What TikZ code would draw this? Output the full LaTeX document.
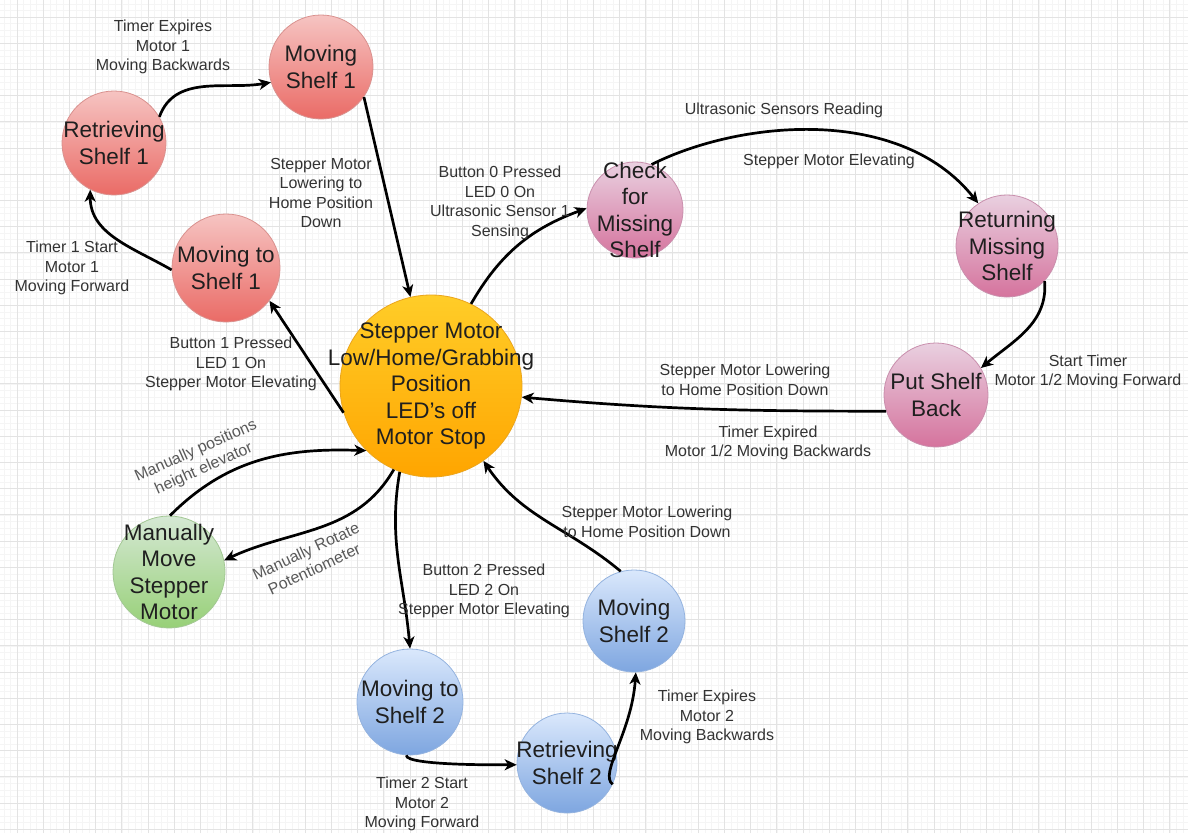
\documentclass[tikz,border=0pt]{standalone}
\usepackage{fontspec}
\setmainfont{Liberation Sans}
\usepackage{tikz}
\usetikzlibrary{arrows.meta}
\definecolor{redtop}{HTML}{F6C4C2}
\definecolor{redbot}{HTML}{EA6B66}
\definecolor{redline}{HTML}{D9918E}
\definecolor{pinktop}{HTML}{E9D0E0}
\definecolor{pinkbot}{HTML}{D5739D}
\definecolor{pinkline}{HTML}{C98FAD}
\definecolor{orangetop}{HTML}{FFCD28}
\definecolor{orangebot}{HTML}{FFA500}
\definecolor{orangeline}{HTML}{EBA51C}
\definecolor{greentop}{HTML}{D5E8D4}
\definecolor{greenbot}{HTML}{97D077}
\definecolor{greenline}{HTML}{A3C894}
\definecolor{bluetop}{HTML}{DAE8FC}
\definecolor{bluebot}{HTML}{7EA6E0}
\definecolor{blueline}{HTML}{94B3DF}

\tikzset{
  state/.style={circle, inner sep=0pt, line width=0.8pt},
  redst/.style={state, top color=redtop, bottom color=redbot, draw=redline},
  pinkst/.style={state, top color=pinktop, bottom color=pinkbot, draw=pinkline},
  orangest/.style={state, top color=orangetop, bottom color=orangebot, draw=orangeline},
  greenst/.style={state, top color=greentop, bottom color=greenbot, draw=greenline},
  bluest/.style={state, top color=bluetop, bottom color=bluebot, draw=blueline},
  statetext/.style={align=center, text=black!88, font=\fontsize{22.5}{26.5}\selectfont},
  lbl/.style={align=center, text=black!80, font=\fontsize{16}{19.5}\selectfont},
  trans/.style={line width=2.7pt, -{Stealth[length=12pt, width=11pt, inset=3.5pt]}}
}

\begin{document}
\begin{tikzpicture}[x=1pt, y=1pt]
\useasboundingbox (0,0) rectangle (1188,-833);

% grid paper
\fill[white] (0,0) rectangle (1188,-833);
\begin{scope}[shift={(17,-17)}]
  \draw[black!4, line width=0.5pt, step=6.55] (-17,17) grid (1171,-816);
  \draw[black!11, line width=0.7pt, step=26.2] (-17,17) grid (1171,-816);
\end{scope}

% home state
\node[orangest, minimum size=182pt, label={[statetext]center:{Stepper Motor\\Low/Home/Grabbing\\Position\\LED's off\\Motor Stop}}] (home) at (431,-386) {};

% shelf 1
\node[redst, minimum size=104pt, label={[statetext]center:{Moving\\Shelf 1}}] (msA) at (321,-67) {};
\node[redst, minimum size=104pt, label={[statetext]center:{Retrieving\\Shelf 1}}] (retA) at (114,-143) {};
\node[redst, minimum size=108pt, label={[statetext]center:{Moving to\\Shelf 1}}] (mtsA) at (226,-268) {};

% missing shelf
\node[pinkst, minimum size=96pt, label={[statetext]center:{Check\\for\\Missing\\Shelf}}] (check) at (635,-210) {};
\node[pinkst, minimum size=102pt, label={[statetext]center:{Returning\\Missing\\Shelf}}] (retM) at (1007,-246) {};
\node[pinkst, minimum size=104pt, label={[statetext]center:{Put Shelf\\Back}}] (putB) at (936,-395) {};

% manual mode
\node[greenst, minimum size=112pt, label={[statetext]center:{Manually\\Move\\Stepper\\Motor}}] (manual) at (169,-572) {};

% shelf 2
\node[bluest, minimum size=106pt, label={[statetext]center:{Moving to\\Shelf 2}}] (mtsB) at (410,-702) {};
\node[bluest, minimum size=100pt, label={[statetext]center:{Retrieving\\Shelf 2}}] (retB) at (567,-763) {};
\node[bluest, minimum size=102pt, label={[statetext]center:{Moving\\Shelf 2}}] (msB) at (634,-621) {};

% transitions, shelf 1
\draw[trans] (retA.30) to[out=70, in=190] (msA.197);
\draw[trans] (msA.-35) -- (home.103);
\draw[trans] (mtsA.182) to[out=150, in=270] (retA.243);
\draw[trans] (home.197) -- (mtsA.-37);

% transitions, missing shelf
\draw[trans] (home.64) to[out=60, in=200] (check.178);
\draw[trans] (check.70) .. controls (740,-120) and (900,-105) .. (retM.124);
\draw[trans] (retM.-43) to[out=-85, in=40] (putB.31);
\draw[trans] (putB.198) to[out=180, in=-5] (home.-7);

% transitions, manual
\draw[trans] (manual.89) to[out=45, in=178] (home.225);
\draw[trans] (home.246) to[out=240, in=25] (manual.12);

% transitions, shelf 2
\draw[trans] (home.250) to[out=260, in=95] (mtsB.90);
\draw[trans] (mtsB.-94) to[out=-95, in=180, looseness=0.25] (retB.182);
\draw[trans] (retB.-25) .. controls +(-14,10) and +(-4,-60) .. (msB.-88);
\draw[trans] (msB.105) to[out=140, in=-56] (home.-55);

% labels
\node[lbl] (lbA) at (163,-47) {Timer Expires\\Motor 1\\Moving Backwards};
\node[lbl] (lbB) at (321,-193) {Stepper Motor\\Lowering to\\Home Position\\Down};
\node[lbl] (lbC) at (72,-268) {Timer 1 Start\\Motor 1\\Moving Forward};
\node[lbl] (lbD) at (231,-364) {Button 1 Pressed\\LED 1 On\\Stepper Motor Elevating};
\node[lbl] (lbE) at (500,-203) {Button 0 Pressed\\LED 0 On\\Ultrasonic Sensor 1\\Sensing};
\node[lbl] (lbF) at (784,-110) {Ultrasonic Sensors Reading};
\node[lbl] (lbG) at (829,-161) {Stepper Motor Elevating};
\node[lbl] (lbH) at (1088,-372) {Start Timer\\Motor 1/2 Moving Forward};
\node[lbl] (lbI) at (745,-380) {Stepper Motor Lowering\\to Home Position Down};
\node[lbl] (lbJ) at (768,-443) {Timer Expired\\Motor 1/2 Moving Backwards};
\node[lbl, text=black!65, rotate=24] (lbK) at (200,-460) {Manually positions\\height elevator};
\node[lbl, text=black!65, rotate=25] (lbL) at (310,-560) {Manually Rotate\\Potentiometer};
\node[lbl] (lbM) at (484,-591) {Button 2 Pressed\\LED 2 On\\Stepper Motor Elevating};
\node[lbl] (lbN) at (647,-522) {Stepper Motor Lowering\\to Home Position Down};
\node[lbl] (lbO) at (422,-804) {Timer 2 Start\\Motor 2\\Moving Forward};
\node[lbl] (lbP) at (707,-717) {Timer Expires\\Motor 2\\Moving Backwards};
\end{tikzpicture}
\end{document}
